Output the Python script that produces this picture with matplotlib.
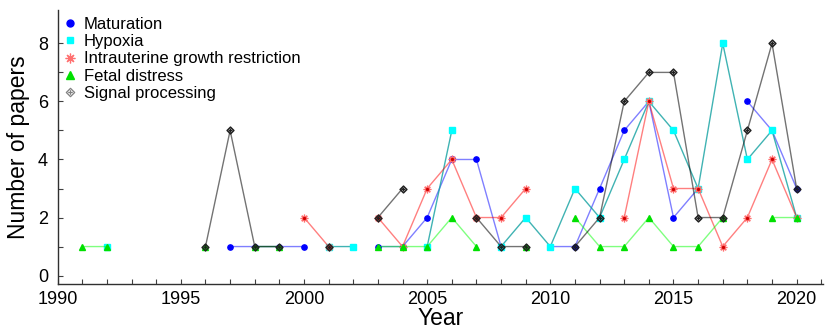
import numpy as np
import matplotlib
matplotlib.use('Agg')
import matplotlib.pyplot as plt
from matplotlib.path import Path
from matplotlib.lines import Line2D

plt.rcParams['font.family'] = ['Liberation Sans', 'DejaVu Sans']

nan = np.nan
years = list(range(1991, 2021))

# values per year 1991..2020, nan = no point for that year
maturation = [nan, nan, nan, nan, nan, nan, 1, 1, 1, 1,
              nan, nan, 1, 1, 2, 4, 4, 1, nan, 1,
              1, 3, 5, 6, 2, 3, nan, 6, 5, 3]
hypoxia = [nan, 1, nan, nan, nan, nan, nan, nan, nan, nan,
           1, 1, nan, nan, 1, 5, nan, 1, 2, 1,
           3, 2, 4, 6, 5, 3, 8, 4, 5, 2]
iugr = [nan, nan, nan, nan, nan, nan, nan, nan, nan, 2,
        1, nan, 2, 1, 3, 4, 2, 2, 3, nan,
        nan, nan, 2, 6, 3, 3, 1, 2, 4, 2]
fetal = [1, 1, nan, nan, nan, 1, nan, 1, 1, nan,
         nan, nan, 1, 1, 1, 2, 1, nan, 1, nan,
         2, 1, 1, 2, 1, 1, 2, nan, 2, 2]
signal = [nan, nan, nan, nan, nan, 1, 5, 1, 1, nan,
          1, nan, 2, 3, nan, nan, 2, 1, 1, nan,
          1, 2, 6, 7, 7, 2, 2, 5, 8, 3]

labels = ['Maturation', 'Hypoxia', 'Intrauterine growth restriction',
          'Fetal distress', 'Signal processing']

# diamond with a plus inside
sp_marker = Path([(0, 1), (1, 0), (0, -1), (-1, 0), (0, 1),
                  (0, 0.55), (0, -0.55), (-0.55, 0), (0.55, 0)],
                 [Path.MOVETO, Path.LINETO, Path.LINETO, Path.LINETO, Path.CLOSEPOLY,
                  Path.MOVETO, Path.LINETO, Path.MOVETO, Path.LINETO])

fig = plt.figure(figsize=(8.29, 3.34), dpi=100)
ax = fig.add_axes([57.7/829, 50/334, (823-57.7)/829, 274/334])

# Maturation
ax.plot(years, maturation, color='blue', alpha=0.5, lw=1)
ax.plot(years, maturation, ls='none', marker='o', ms=3.8, color='blue')
# Hypoxia
ax.plot(years, hypoxia, color='#10a0a0', alpha=0.8, lw=1)
ax.plot(years, hypoxia, ls='none', marker='s', ms=3.8, color='cyan')
# IUGR
ax.plot(years, iugr, color='red', alpha=0.5, lw=1)
ax.plot(years, iugr, ls='none', marker=(8, 2, 0), ms=5.5, mew=0.9, color='#ff7070')
ax.plot(years, iugr, ls='none', marker='o', ms=1.4, color='#d00000')
# Fetal distress
ax.plot(years, fetal, color='#00ff00', alpha=0.5, lw=1)
ax.plot(years, fetal, ls='none', marker='^', ms=4.2, color='#00e000')
# Signal processing
ax.plot(years, signal, color='black', alpha=0.55, lw=1)
ax.plot(years, signal, ls='none', marker=sp_marker, ms=5, mew=1.0,
        mfc='none', mec='#202020')

handles = [
    Line2D([], [], ls='none', marker='o', ms=5, color='blue'),
    Line2D([], [], ls='none', marker='s', ms=5, color='cyan'),
    Line2D([], [], ls='none', marker=(8, 2, 0), ms=7, mew=0.9, color='#ff7070'),
    Line2D([], [], ls='none', marker='^', ms=5.5, color='#00e000'),
    Line2D([], [], ls='none', marker=sp_marker, ms=6, mew=0.9, mfc='none', mec='#808080'),
]
ax.legend(handles, labels, loc='upper left', frameon=False, fontsize=12,
          labelspacing=0.14, handlelength=0.8, handletextpad=0.4,
          borderaxespad=0, bbox_to_anchor=(-0.001, 1.0))

ax.set_xlim(1990, 2021.07)
ax.set_ylim(-0.29, 9.15)
ax.set_xticks(range(1990, 2021, 5))
ax.set_xticks(range(1990, 2022), minor=True)
ax.set_yticks([0, 2, 4, 6, 8])
ax.set_yticks([1, 3, 5, 7], minor=True)
ax.tick_params(which='both', direction='in', length=3.5, width=0.8,
               color='#404040', labelsize=13)
ax.tick_params(axis='x', pad=5)
ax.tick_params(axis='y', pad=7)
for s in ['top', 'right']:
    ax.spines[s].set_visible(False)
for s in ['left', 'bottom']:
    ax.spines[s].set_color('#303030')
    ax.spines[s].set_linewidth(1.0)

ax.set_xlabel('Year', fontsize=16.5, labelpad=-1)
ax.set_ylabel('Number of papers', fontsize=16.5, labelpad=6)

fig.savefig('out.png', dpi=100)
